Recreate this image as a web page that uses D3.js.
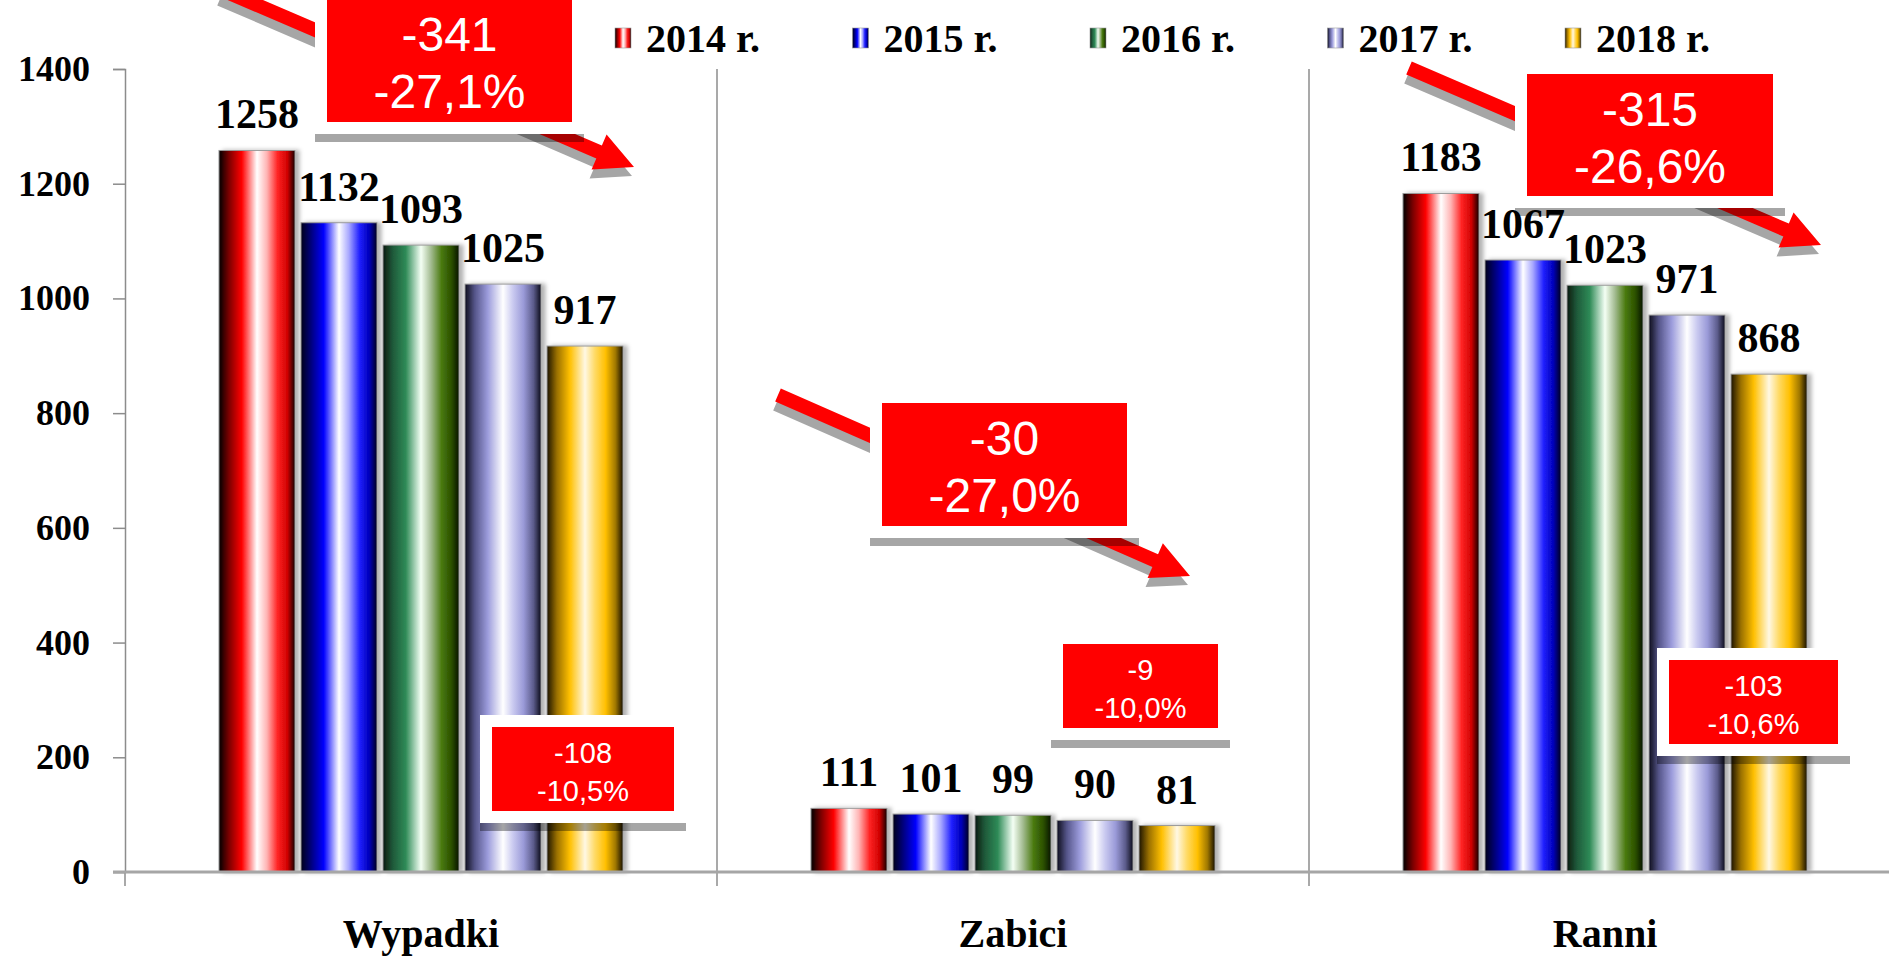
<!DOCTYPE html>
<html>
<head>
<meta charset="utf-8">
<script src="https://cdn.jsdelivr.net/npm/d3@7"></script>
<style>
  body { margin: 0; background: #fff; }
  svg { display: block; }
</style>
</head>
<body>
<div id="chart"></div>
<script>
// ----------------------------------------------------------------------
// data

const categories = ["Wypadki", "Zabici", "Ranni"];
const years = ["2014 r.", "2015 r.", "2016 r.", "2017 r.", "2018 r."];

const wypadki = [1258, 1132, 1093, 1025, 917];
const zabici  = [111, 101, 99, 90, 81];
const ranni   = [1183, 1067, 1023, 971, 868];

const yTicks = [0, 200, 400, 600, 800, 1000, 1200, 1400];

const series = [wypadki, zabici, ranni];

// bar gradient stops (left -> right), one per year
const barStops = [
  ["#000000", "#7a0000", "#ff0000", "#ffffff", "#ffb4b4", "#ff2424", "#d00000", "#140000"],
  ["#000018", "#00007a", "#0000ff", "#ffffff", "#a8a8ff", "#2020ff", "#0000b8", "#00001e"],
  ["#0c1a10", "#1f5a3a", "#2e8b57", "#f4fff4", "#a4bc92", "#4a7a10", "#2a5000", "#081400"],
  ["#0e0e1c", "#55558a", "#9c9cdc", "#ffffff", "#cacaf0", "#9a9ad8", "#5c5c8c", "#0e0e1c"],
  ["#1c1400", "#9a7000", "#ffc000", "#fff8e4", "#ffda66", "#ffc000", "#a07800", "#181000"]
];
const stopOffsets = [0, 0.13, 0.3, 0.5, 0.63, 0.77, 0.9, 1];

// annotation layout (pixels)
const bigBoxes = [
  {x: 327, y: -1, w: 245, h: 123},
  {x: 882, y: 403, w: 245, h: 123},
  {x: 1527, y: 74, w: 246, h: 122}
];
const smallBoxes = [
  {x: 492, y: 727, w: 182, h: 84},
  {x: 1063, y: 644, w: 155, h: 84},
  {x: 1669, y: 660, w: 169, h: 84}
];
const arrows = [
  {x1: 222, y1: -10, x2: 634, y2: 167},
  {x1: 778, y1: 395, x2: 1190, y2: 576},
  {x1: 1409, y1: 68, x2: 1821, y2: 245}
];

// ----------------------------------------------------------------------

const width = 1889;
const height = 957;
const serif = "'Liberation Serif', 'Times New Roman', serif";
const sans = "'Liberation Sans', Arial, sans-serif";

const svg = d3.select("#chart")
    .append("svg")
    .attr("width", width)
    .attr("height", height);

svg.append("rect").attr("width", width).attr("height", height).attr("fill", "#fff");

const defs = svg.append("defs");

barStops.forEach(function(stops, i) {
  const g = defs.append("linearGradient")
      .attr("id", "grad" + i)
      .attr("x1", "0%").attr("x2", "100%")
      .attr("y1", "0%").attr("y2", "0%");
  stops.forEach(function(c, k) {
    g.append("stop").attr("offset", stopOffsets[k]).attr("stop-color", c);
  });
});

const shadow = defs.append("filter").attr("id", "barShadow")
    .attr("x", "-10%").attr("width", "130%");
shadow.append("feDropShadow")
    .attr("dx", 4).attr("dy", 0)
    .attr("stdDeviation", 2)
    .attr("flood-color", "#000")
    .attr("flood-opacity", 0.3);

// scales
const x0 = d3.scaleBand()
    .domain(categories)
    .range([125, 125 + 3 * 592]);

const x1 = d3.scaleBand()
    .domain(years)
    .range([0, x0.bandwidth()])
    .paddingInner(0.073)
    .paddingOuter(1.146);

const y = d3.scaleLinear()
    .domain([0, 1400])
    .range([872, 69]);

// ----------------------------------------------------------------------
// axes

const yAxis = svg.append("g")
    .attr("transform", "translate(125,0)")
    .call(d3.axisLeft(y).tickValues(yTicks).tickSize(12).tickPadding(23).tickFormat(d3.format("d")));

yAxis.select(".domain").attr("stroke", "#8c8c8c").attr("stroke-width", 1.5);
yAxis.selectAll(".tick line").attr("stroke", "#8c8c8c").attr("stroke-width", 1.5);
yAxis.selectAll(".tick text")
    .attr("font-family", serif)
    .attr("font-weight", "bold")
    .attr("font-size", 36)
    .attr("fill", "#000");

// category dividers
svg.append("g").selectAll("line")
    .data(categories.slice(1))
    .enter()
    .append("line")
    .attr("x1", function(d) { return x0(d); })
    .attr("x2", function(d) { return x0(d); })
    .attr("y1", y(1400))
    .attr("y2", y(0) + 14)
    .attr("stroke", "#8c8c8c")
    .attr("stroke-width", 1.5);

svg.append("line")
    .attr("x1", x0(categories[0])).attr("x2", x0(categories[0]))
    .attr("y1", y(0)).attr("y2", y(0) + 14)
    .attr("stroke", "#8c8c8c").attr("stroke-width", 1.5);

const xAxis = svg.append("g")
    .attr("transform", "translate(0," + y(0) + ")")
    .call(d3.axisBottom(x0).tickSize(0).tickPadding(47));
xAxis.select(".domain").remove();
xAxis.selectAll(".tick text")
    .attr("font-family", serif)
    .attr("font-weight", "bold")
    .attr("font-size", 40)
    .attr("fill", "#000");

// ----------------------------------------------------------------------
// bars

const groups = svg.append("g").selectAll("g")
    .data(categories)
    .enter()
    .append("g")
    .attr("transform", function(d) { return "translate(" + x0(d) + ",0)"; });

groups.selectAll("rect")
    .data(function(d, i) { return series[i].map(function(v, k) { return {year: years[k], k: k, v: v}; }); })
    .enter()
    .append("rect")
    .attr("x", function(d) { return x1(d.year); })
    .attr("y", function(d) { return y(d.v); })
    .attr("width", x1.bandwidth())
    .attr("height", function(d) { return y(0) - y(d.v); })
    .attr("fill", function(d) { return "url(#grad" + d.k + ")"; })
    .attr("stroke", "#9a9a9a")
    .attr("stroke-width", 1)
    .attr("filter", "url(#barShadow)");

// baseline drawn over the bar feet
svg.append("line")
    .attr("x1", 113).attr("x2", width)
    .attr("y1", y(0)).attr("y2", y(0))
    .attr("stroke", "#a6a6a6")
    .attr("stroke-width", 3);

groups.selectAll("text")
    .data(function(d, i) { return series[i].map(function(v, k) { return {year: years[k], v: v}; }); })
    .enter()
    .append("text")
    .attr("x", function(d) { return x1(d.year) + x1.bandwidth() / 2; })
    .attr("y", function(d) { return y(d.v) - 22; })
    .attr("text-anchor", "middle")
    .attr("font-family", serif)
    .attr("font-weight", "bold")
    .attr("font-size", 42)
    .attr("fill", "#000")
    .text(function(d) { return d.v; });

// ----------------------------------------------------------------------
// legend

const legend = svg.append("g").selectAll("g")
    .data(years)
    .enter()
    .append("g")
    .attr("transform", function(d, i) { return "translate(" + (615 + i * 237.5) + ",0)"; });

legend.append("rect")
    .attr("x", 0).attr("y", 28)
    .attr("width", 16).attr("height", 20)
    .attr("fill", function(d, i) { return "url(#grad" + i + ")"; })
    .attr("stroke", "#9a9a9a").attr("stroke-width", 0.6);

legend.append("text")
    .attr("x", 31).attr("y", 52)
    .attr("font-family", serif)
    .attr("font-weight", "bold")
    .attr("font-size", 40)
    .attr("fill", "#000")
    .text(function(d) { return d; });

// ----------------------------------------------------------------------
// change annotations

const pl = d3.formatLocale({decimal: ",", thousands: " ", grouping: [3], currency: ["", " zł"], minus: "-"});
const fmtInt = pl.format("d");
const fmtPct = function(v) { return pl.format(".1f")(v * 100) + "%"; };

function arrowPoints(a, w, hl, hw) {
  const dx = a.x2 - a.x1, dy = a.y2 - a.y1;
  const len = Math.sqrt(dx * dx + dy * dy);
  const ux = dx / len, uy = dy / len;
  const nx = -uy, ny = ux;
  const bx = a.x2 - ux * hl, by = a.y2 - uy * hl;
  return [
    [a.x1 + nx * w, a.y1 + ny * w],
    [bx + nx * w, by + ny * w],
    [bx + nx * hw, by + ny * hw],
    [a.x2, a.y2],
    [bx - nx * hw, by - ny * hw],
    [bx - nx * w, by - ny * w],
    [a.x1 - nx * w, a.y1 - ny * w]
  ].map(function(p) { return p.join(","); }).join(" ");
}

const arrowG = svg.append("g");
arrowG.selectAll("polygon.shadow")
    .data(arrows)
    .enter()
    .append("polygon")
    .attr("class", "shadow")
    .attr("points", function(d) { return arrowPoints(d, 7, 38, 19); })
    .attr("transform", "translate(-2,9)")
    .attr("fill", "#a6a6a6");
arrowG.selectAll("polygon.arrow")
    .data(arrows)
    .enter()
    .append("polygon")
    .attr("class", "arrow")
    .attr("points", function(d) { return arrowPoints(d, 7, 38, 19); })
    .attr("fill", "#ff0000");

function drawBox(b, lines, fontSize, padTop, pad, dy1, dy2) {
  const g = svg.append("g");
  g.append("rect")
      .attr("x", b.x - pad).attr("y", b.y - padTop + 8)
      .attr("width", b.w + 2 * pad).attr("height", b.h + padTop + pad)
      .attr("fill", "#000").attr("fill-opacity", 0.35);
  g.append("rect")
      .attr("x", b.x - pad).attr("y", b.y - padTop)
      .attr("width", b.w + 2 * pad).attr("height", b.h + padTop + pad)
      .attr("fill", "#fff");
  g.append("rect")
      .attr("x", b.x).attr("y", b.y)
      .attr("width", b.w).attr("height", b.h)
      .attr("fill", "#ff0000");
  g.selectAll("text")
      .data(lines)
      .enter()
      .append("text")
      .attr("x", b.x + b.w / 2)
      .attr("y", function(d, i) { return b.y + (i === 0 ? dy1 : dy2); })
      .attr("text-anchor", "middle")
      .attr("font-family", sans)
      .attr("font-size", fontSize)
      .attr("fill", "#fff")
      .text(function(d) { return d; });
}

series.forEach(function(s, i) {
  const first = s[0], prev = s[s.length - 2], last = s[s.length - 1];
  drawBox(bigBoxes[i], [fmtInt(last - first), fmtPct((last - first) / first)], 48, 5, 12, 52, 109);
  drawBox(smallBoxes[i], [fmtInt(last - prev), fmtPct((last - prev) / prev)], 29, 12, 12, 36, 74);
});
</script>
</body>
</html>
